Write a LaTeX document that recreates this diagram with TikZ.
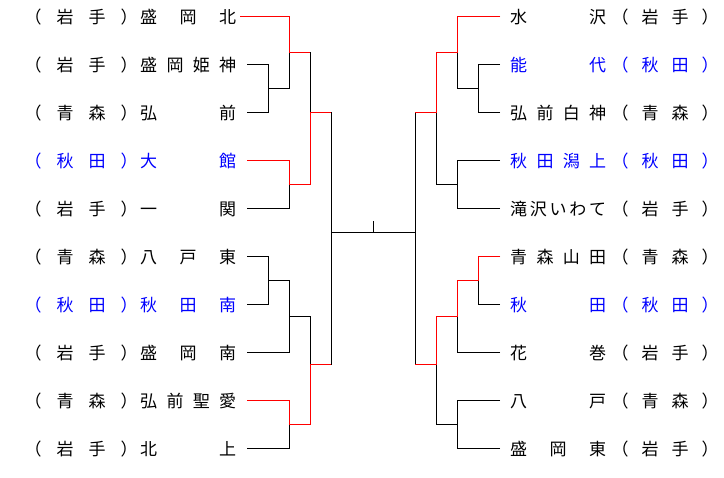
\documentclass[tikz,border=0pt]{standalone}
\usepackage{fontspec}
\newfontfamily\jpfont{Noto Sans CJK JP}
\definecolor{akita}{RGB}{0,0,255}
\definecolor{winred}{RGB}{255,0,0}
\newcommand\jspread[2]{\makebox[#1pt][s]{#2}}
\tikzset{
  lbl/.style={inner sep=0pt, anchor=base west, font=\jpfont\fontsize{17}{17}\selectfont},
  blue/.style={text=akita},
  tree/.style={line width=1pt, draw=black},
  winpath/.style={line width=1pt, draw=winred},
}
\begin{document}
\begin{tikzpicture}[x=1pt,y=-1pt]
\useasboundingbox (0,0) rectangle (724,478);
% ---------- left texts ----------
\foreach \i/\p/\t/\s in {
  1/岩\hfil 手/盛\hfil 岡\hfil 北/,
  2/岩\hfil 手/盛\hfil 岡\hfil 姫\hfil 神/,
  3/青\hfil 森/弘\hfil 前/,
  4/秋\hfil 田/大\hfil 館/blue,
  5/岩\hfil 手/一\hfil 関/,
  6/青\hfil 森/八\hfil 戸\hfil 東/,
  7/秋\hfil 田/秋\hfil 田\hfil 南/blue,
  8/岩\hfil 手/盛\hfil 岡\hfil 南/,
  9/青\hfil 森/弘\hfil 前\hfil 聖\hfil 愛/,
  10/岩\hfil 手/北\hfil 上/}{
  \pgfmathsetmacro\yy{17+48*(\i-1)+7}
  \node[lbl,\s] (lp\i) at (24.5,\yy) {\jspread{113}{（\hfil\p\hfil ）}};
  \node[lbl,\s] (lt\i) at (140,\yy) {\jspread{96}{\t}};
}
% ---------- right texts ----------
\foreach \i/\p/\t/\s in {
  1/岩\hfil 手/水\hfil 沢/,
  2/秋\hfil 田/能\hfil 代/blue,
  3/青\hfil 森/弘\hfil 前\hfil 白\hfil 神/,
  4/秋\hfil 田/秋\hfil 田\hfil 潟\hfil 上/blue,
  5/岩\hfil 手/滝\hfil 沢\hfil い\hfil わ\hfil て/,
  6/青\hfil 森/青\hfil 森\hfil 山\hfil 田/,
  7/秋\hfil 田/秋\hfil 田/blue,
  8/岩\hfil 手/花\hfil 巻/,
  9/青\hfil 森/八\hfil 戸/,
  10/岩\hfil 手/盛\hfil 岡\hfil 東/}{
  \pgfmathsetmacro\yy{17+48*(\i-1)+7}
  \node[lbl,\s] (rt\i) at (510,\yy) {\jspread{96}{\t}};
  \node[lbl,\s] (rp\i) at (611.5,\yy) {\jspread{107}{（\hfil\p\hfil ）}};
}
% ---------- row ends ----------
\foreach \i in {2,...,10}{\coordinate (L\i) at (247,{17+48*(\i-1)});}
\coordinate (L1) at (240,17);
\foreach \i in {1,...,10}{\coordinate (R\i) at (500,{17+48*(\i-1)});}
% ---------- junctions ----------
\coordinate (LA1) at (268,89);  \coordinate (LA2) at (268,281);
\coordinate (LB1) at (289,53);  \coordinate (LB2) at (289,185);
\coordinate (LB3) at (289,317); \coordinate (LB4) at (289,425);
\coordinate (LC1) at (310,113); \coordinate (LC2) at (310,365);
\coordinate (LD) at (331,233);
\coordinate (RD) at (415,233);
\coordinate (RC1) at (436,113); \coordinate (RC2) at (436,365);
\coordinate (RB1) at (457,53);  \coordinate (RB2) at (457,185);
\coordinate (RB3) at (457,317); \coordinate (RB4) at (457,425);
\coordinate (RA1) at (478,89);  \coordinate (RA2) at (478,281);
\coordinate (C) at (373,233);   \coordinate (T) at (373,221);
% ---------- black tree ----------
\draw[tree] (L1) -| (LB1);  \draw[tree] (LA1) -| (LB1);
\draw[tree] (L2) -| (LA1);  \draw[tree] (L3) -| (LA1);
\draw[tree] (L4) -| (LB2);  \draw[tree] (L5) -| (LB2);
\draw[tree] (LB1) -| (LC1); \draw[tree] (LB2) -| (LC1);
\draw[tree] (L6) -| (LA2);  \draw[tree] (L7) -| (LA2);
\draw[tree] (LA2) -| (LB3); \draw[tree] (L8) -| (LB3);
\draw[tree] (L9) -| (LB4);  \draw[tree] (L10) -| (LB4);
\draw[tree] (LB3) -| (LC2); \draw[tree] (LB4) -| (LC2);
\draw[tree] (LC1) -| (LD);  \draw[tree] (LC2) -| (LD);
\draw[tree] (LD) -- (RD);   \draw[tree] (C) -- (T);
\draw[tree] (RC1) -| (RD);  \draw[tree] (RC2) -| (RD);
\draw[tree] (RB1) -| (RC1); \draw[tree] (RB2) -| (RC1);
\draw[tree] (R1) -| (RB1);  \draw[tree] (RA1) -| (RB1);
\draw[tree] (R2) -| (RA1);  \draw[tree] (R3) -| (RA1);
\draw[tree] (R4) -| (RB2);  \draw[tree] (R5) -| (RB2);
\draw[tree] (R6) -| (RA2);  \draw[tree] (R7) -| (RA2);
\draw[tree] (RA2) -| (RB3); \draw[tree] (R8) -| (RB3);
\draw[tree] (RB3) -| (RC2); \draw[tree] (RB4) -| (RC2);
\draw[tree] (R9) -| (RB4);  \draw[tree] (R10) -| (RB4);
% ---------- winners ----------
\draw[winpath] (L1) -| (LB1) -- (LB1 -| LC1);
\draw[winpath] (L4) -| (LB2) -| (LC1) -- (LC1 -| LD);
\draw[winpath] (L9) -| (LB4) -| (LC2) -- (LC2 -| LD);
\draw[winpath] (R1) -| (RB1) -| (RC1) -- (RC1 -| RD);
\draw[winpath] (R6) -| (RA2) -| (RB3) -| (RC2) -- (RC2 -| RD);
\end{tikzpicture}
\end{document}
